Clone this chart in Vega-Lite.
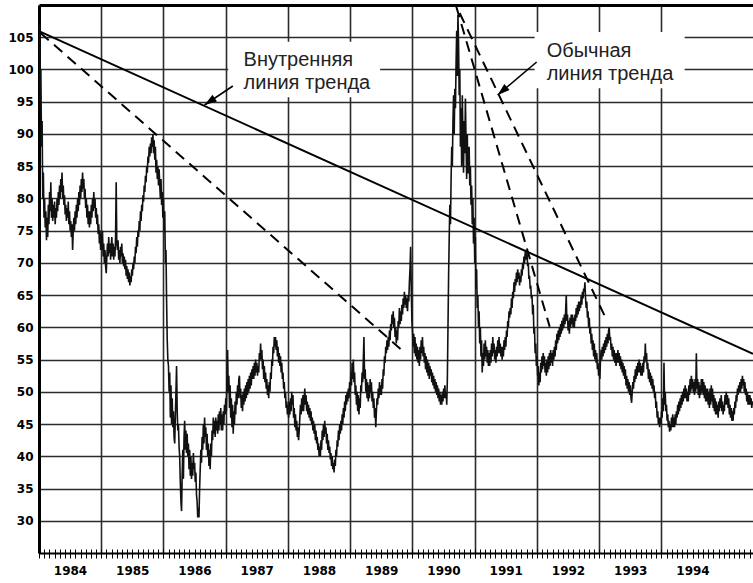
{
"$schema":"https://vega.github.io/schema/vega-lite/v6.json",
"width":714,"height":548,
"autosize":{"type":"none"},
"padding":{"left":39,"top":5,"right":0,"bottom":30},
"background":"white",
"config":{
"view":{"stroke":null},
"axis":{"labelFont":"DejaVu Sans","labelFontWeight":"bold","labelFontSize":12,"labelColor":"#000","gridColor":"#2b2b2b","gridWidth":1.6,"gridOpacity":1}
},
"resolve":{"axis":{"x":"independent","y":"independent"}},
"datasets":{
"boxes":[{"x1":1987.04,"x2":1989.48,"y1":104.3,"y2":95.7},{"x1":1991.962,"x2":1994.372,"y1":105.8,"y2":97.1}],
"solid":[{"x1":1984.008,"y1":105.9,"x2":1995.47,"y2":55.9}],
"dashed":[{"x1":1984.024,"y1":105.66,"x2":1989.809,"y2":56.64},{"x1":1990.704,"y1":109.74,"x2":1992.204,"y2":60.1},{"x1":1990.757,"y1":108.76,"x2":1993.119,"y2":61.14}],
"arrows":[{"name":"inner","x1":1987.114,"y1":97.44,"x2":1986.659,"y2":94.49},{"name":"usual","x1":1991.995,"y1":101.16,"x2":1991.368,"y2":96.04}],
"labels":[{"x":1987.286,"y":100.58,"label":"Внутренняя\nлиния тренда"},{"x":1992.155,"y":101.89,"label":"Обычная\nлиния тренда"}],
"price":[
{"t":1984.00,"v":104},{"t":1984.01,"v":107},{"t":1984.02,"v":95},{"t":1984.03,"v":100},{"t":1984.04,"v":88},{"t":1984.05,"v":92},{"t":1984.06,"v":80},{"t":1984.07,"v":84},{"t":1984.08,"v":77},{"t":1984.09,"v":80},
{"t":1984.10,"v":75.5},{"t":1984.11,"v":78},{"t":1984.12,"v":73.5},{"t":1984.13,"v":77},{"t":1984.14,"v":74},{"t":1984.15,"v":79},{"t":1984.16,"v":76},{"t":1984.17,"v":81},{"t":1984.18,"v":78},{"t":1984.19,"v":82.5},
{"t":1984.20,"v":77},{"t":1984.21,"v":80},{"t":1984.22,"v":76.5},{"t":1984.23,"v":79},{"t":1984.24,"v":77},{"t":1984.25,"v":79.5},{"t":1984.26,"v":76},{"t":1984.27,"v":78.5},{"t":1984.28,"v":77},{"t":1984.29,"v":80},
{"t":1984.30,"v":78},{"t":1984.31,"v":81},{"t":1984.32,"v":79},{"t":1984.33,"v":82},{"t":1984.34,"v":80},{"t":1984.35,"v":83},{"t":1984.36,"v":81},{"t":1984.37,"v":84},{"t":1984.38,"v":80},{"t":1984.39,"v":82},
{"t":1984.40,"v":79},{"t":1984.41,"v":80.5},{"t":1984.42,"v":77.5},{"t":1984.43,"v":79},{"t":1984.44,"v":76.5},{"t":1984.45,"v":78.5},{"t":1984.46,"v":77},{"t":1984.47,"v":79.5},{"t":1984.48,"v":76},{"t":1984.49,"v":78},
{"t":1984.50,"v":75},{"t":1984.51,"v":76.5},{"t":1984.52,"v":74},{"t":1984.53,"v":76},{"t":1984.54,"v":72},{"t":1984.55,"v":75},{"t":1984.56,"v":77},{"t":1984.57,"v":75},{"t":1984.58,"v":78},{"t":1984.59,"v":76},
{"t":1984.60,"v":79},{"t":1984.61,"v":77},{"t":1984.62,"v":80},{"t":1984.63,"v":78},{"t":1984.64,"v":81},{"t":1984.65,"v":79},{"t":1984.66,"v":82},{"t":1984.67,"v":80},{"t":1984.68,"v":83},{"t":1984.69,"v":81},
{"t":1984.70,"v":84},{"t":1984.71,"v":81.5},{"t":1984.72,"v":83},{"t":1984.73,"v":80},{"t":1984.74,"v":81.5},{"t":1984.75,"v":78.5},{"t":1984.76,"v":80},{"t":1984.77,"v":77},{"t":1984.78,"v":79},{"t":1984.79,"v":76},
{"t":1984.80,"v":78},{"t":1984.81,"v":75.5},{"t":1984.82,"v":78},{"t":1984.83,"v":76},{"t":1984.84,"v":79},{"t":1984.85,"v":77},{"t":1984.86,"v":80},{"t":1984.87,"v":78},{"t":1984.88,"v":81},{"t":1984.89,"v":78.5},
{"t":1984.90,"v":80},{"t":1984.91,"v":77},{"t":1984.92,"v":78.5},{"t":1984.93,"v":76},{"t":1984.94,"v":77.5},{"t":1984.95,"v":74.5},{"t":1984.96,"v":76},{"t":1984.97,"v":73},{"t":1984.98,"v":75},{"t":1984.99,"v":72},
{"t":1985.00,"v":74.5},{"t":1985.01,"v":72},{"t":1985.02,"v":75},{"t":1985.03,"v":71},{"t":1985.04,"v":73},{"t":1985.05,"v":70},{"t":1985.06,"v":72},{"t":1985.07,"v":69.5},{"t":1985.08,"v":68.4},{"t":1985.09,"v":71},
{"t":1985.10,"v":73},{"t":1985.11,"v":71},{"t":1985.12,"v":74},{"t":1985.13,"v":71.5},{"t":1985.14,"v":73},{"t":1985.15,"v":70.5},{"t":1985.16,"v":72.5},{"t":1985.17,"v":74},{"t":1985.18,"v":71},{"t":1985.19,"v":73},
{"t":1985.20,"v":70.5},{"t":1985.21,"v":72.5},{"t":1985.22,"v":71},{"t":1985.23,"v":74},{"t":1985.24,"v":82.5},{"t":1985.25,"v":73},{"t":1985.26,"v":72},{"t":1985.27,"v":73.5},{"t":1985.28,"v":70.5},{"t":1985.29,"v":72},
{"t":1985.30,"v":70},{"t":1985.31,"v":72.5},{"t":1985.32,"v":71},{"t":1985.33,"v":73},{"t":1985.34,"v":70},{"t":1985.35,"v":71.5},{"t":1985.36,"v":69.5},{"t":1985.37,"v":71},{"t":1985.38,"v":69},{"t":1985.39,"v":70.5},
{"t":1985.40,"v":68},{"t":1985.41,"v":69.5},{"t":1985.42,"v":67.5},{"t":1985.43,"v":69},{"t":1985.44,"v":67},{"t":1985.45,"v":68.5},{"t":1985.46,"v":66.5},{"t":1985.47,"v":68},{"t":1985.48,"v":67},{"t":1985.49,"v":69},
{"t":1985.50,"v":68},{"t":1985.51,"v":70},{"t":1985.52,"v":69},{"t":1985.53,"v":71},{"t":1985.54,"v":70},{"t":1985.55,"v":72.5},{"t":1985.56,"v":71.5},{"t":1985.57,"v":74},{"t":1985.58,"v":72.5},{"t":1985.59,"v":75},
{"t":1985.60,"v":74},{"t":1985.61,"v":76.5},{"t":1985.62,"v":75},{"t":1985.63,"v":78},{"t":1985.64,"v":76.5},{"t":1985.65,"v":79},{"t":1985.66,"v":78},{"t":1985.67,"v":80.5},{"t":1985.68,"v":79.5},{"t":1985.69,"v":82},
{"t":1985.70,"v":81},{"t":1985.71,"v":83.5},{"t":1985.72,"v":82.5},{"t":1985.73,"v":85},{"t":1985.74,"v":84},{"t":1985.75,"v":86.5},{"t":1985.76,"v":85.5},{"t":1985.77,"v":88},{"t":1985.78,"v":86.5},{"t":1985.79,"v":88.5},
{"t":1985.80,"v":87},{"t":1985.81,"v":89.5},{"t":1985.82,"v":88},{"t":1985.83,"v":90},{"t":1985.84,"v":87},{"t":1985.85,"v":89},{"t":1985.86,"v":86},{"t":1985.87,"v":88},{"t":1985.88,"v":84},{"t":1985.89,"v":86},
{"t":1985.90,"v":83},{"t":1985.91,"v":85},{"t":1985.92,"v":82},{"t":1985.93,"v":84.5},{"t":1985.94,"v":82},{"t":1985.95,"v":80},{"t":1985.96,"v":83},{"t":1985.97,"v":79},{"t":1985.98,"v":81},{"t":1985.99,"v":77},
{"t":1986.00,"v":80},{"t":1986.01,"v":75},{"t":1986.02,"v":78},{"t":1986.03,"v":70},{"t":1986.04,"v":72},{"t":1986.05,"v":64},{"t":1986.06,"v":58},{"t":1986.07,"v":55},{"t":1986.08,"v":54},{"t":1986.09,"v":50},
{"t":1986.10,"v":53},{"t":1986.11,"v":46},{"t":1986.12,"v":51},{"t":1986.13,"v":45},{"t":1986.14,"v":49},{"t":1986.15,"v":44.5},{"t":1986.16,"v":47},{"t":1986.17,"v":43},{"t":1986.18,"v":42},{"t":1986.19,"v":46},
{"t":1986.20,"v":50},{"t":1986.21,"v":54},{"t":1986.22,"v":47},{"t":1986.23,"v":44},{"t":1986.24,"v":45},{"t":1986.25,"v":41.5},{"t":1986.26,"v":40},{"t":1986.27,"v":36},{"t":1986.28,"v":33},{"t":1986.29,"v":31.5},
{"t":1986.30,"v":37},{"t":1986.31,"v":41},{"t":1986.32,"v":36.5},{"t":1986.33,"v":43},{"t":1986.34,"v":45.5},{"t":1986.35,"v":41},{"t":1986.36,"v":44},{"t":1986.37,"v":40.5},{"t":1986.38,"v":43.5},{"t":1986.39,"v":40},
{"t":1986.40,"v":42},{"t":1986.41,"v":38},{"t":1986.42,"v":41},{"t":1986.43,"v":37},{"t":1986.44,"v":40},{"t":1986.45,"v":36.5},{"t":1986.46,"v":39},{"t":1986.47,"v":37},{"t":1986.48,"v":40.5},{"t":1986.49,"v":38},
{"t":1986.50,"v":39},{"t":1986.51,"v":36},{"t":1986.52,"v":37.5},{"t":1986.53,"v":34},{"t":1986.54,"v":33},{"t":1986.55,"v":30.5},{"t":1986.56,"v":32},{"t":1986.57,"v":30.5},{"t":1986.58,"v":35},{"t":1986.59,"v":38},
{"t":1986.60,"v":41},{"t":1986.61,"v":39},{"t":1986.62,"v":43},{"t":1986.63,"v":41},{"t":1986.64,"v":45},{"t":1986.65,"v":42},{"t":1986.66,"v":46},{"t":1986.67,"v":43},{"t":1986.68,"v":44.5},{"t":1986.69,"v":41},
{"t":1986.70,"v":43.5},{"t":1986.71,"v":40},{"t":1986.72,"v":42},{"t":1986.73,"v":38.5},{"t":1986.74,"v":41},{"t":1986.75,"v":38},{"t":1986.76,"v":42},{"t":1986.77,"v":40},{"t":1986.78,"v":44},{"t":1986.79,"v":42.5},
{"t":1986.80,"v":46},{"t":1986.81,"v":43.5},{"t":1986.82,"v":45.5},{"t":1986.83,"v":43},{"t":1986.84,"v":46},{"t":1986.85,"v":44},{"t":1986.86,"v":45.5},{"t":1986.87,"v":43.5},{"t":1986.88,"v":46.5},{"t":1986.89,"v":44},
{"t":1986.90,"v":47},{"t":1986.91,"v":45},{"t":1986.92,"v":47.5},{"t":1986.93,"v":44},{"t":1986.94,"v":46.5},{"t":1986.95,"v":44},{"t":1986.96,"v":47},{"t":1986.97,"v":45},{"t":1986.98,"v":48},{"t":1986.99,"v":46.5},
{"t":1987.00,"v":49},{"t":1987.01,"v":47},{"t":1987.02,"v":52},{"t":1987.03,"v":56.5},{"t":1987.04,"v":50},{"t":1987.05,"v":52.5},{"t":1987.06,"v":47.5},{"t":1987.07,"v":51},{"t":1987.08,"v":46},{"t":1987.09,"v":49},
{"t":1987.10,"v":44.5},{"t":1987.11,"v":48},{"t":1987.12,"v":43.5},{"t":1987.13,"v":47},{"t":1987.14,"v":45},{"t":1987.15,"v":48.5},{"t":1987.16,"v":46.5},{"t":1987.17,"v":50},{"t":1987.18,"v":48},{"t":1987.19,"v":51},
{"t":1987.20,"v":49},{"t":1987.21,"v":52},{"t":1987.22,"v":52.5},{"t":1987.23,"v":49},{"t":1987.24,"v":50.5},{"t":1987.25,"v":47.5},{"t":1987.26,"v":49.5},{"t":1987.27,"v":47},{"t":1987.28,"v":50},{"t":1987.29,"v":48},
{"t":1987.30,"v":50.5},{"t":1987.31,"v":48.5},{"t":1987.32,"v":51},{"t":1987.33,"v":49},{"t":1987.34,"v":51.5},{"t":1987.35,"v":49.5},{"t":1987.36,"v":52},{"t":1987.37,"v":50},{"t":1987.38,"v":52.5},{"t":1987.39,"v":50.5},
{"t":1987.40,"v":53},{"t":1987.41,"v":51},{"t":1987.42,"v":53.5},{"t":1987.43,"v":52},{"t":1987.44,"v":54},{"t":1987.45,"v":52},{"t":1987.46,"v":54.5},{"t":1987.47,"v":52.5},{"t":1987.48,"v":55},{"t":1987.49,"v":53},
{"t":1987.50,"v":54.5},{"t":1987.51,"v":52.5},{"t":1987.52,"v":54},{"t":1987.53,"v":53},{"t":1987.54,"v":56},{"t":1987.55,"v":55},{"t":1987.56,"v":57.5},{"t":1987.57,"v":55},{"t":1987.58,"v":56.5},{"t":1987.59,"v":53.5},
{"t":1987.60,"v":55},{"t":1987.61,"v":52},{"t":1987.62,"v":54},{"t":1987.63,"v":51.5},{"t":1987.64,"v":53},{"t":1987.65,"v":50.5},{"t":1987.66,"v":52},{"t":1987.67,"v":49.5},{"t":1987.68,"v":51},{"t":1987.69,"v":49},
{"t":1987.70,"v":51.5},{"t":1987.71,"v":50},{"t":1987.72,"v":53},{"t":1987.73,"v":52},{"t":1987.74,"v":55},{"t":1987.75,"v":54},{"t":1987.76,"v":57},{"t":1987.77,"v":56},{"t":1987.78,"v":58.5},{"t":1987.79,"v":57},
{"t":1987.80,"v":58.5},{"t":1987.81,"v":56.5},{"t":1987.82,"v":58},{"t":1987.83,"v":55.5},{"t":1987.84,"v":57},{"t":1987.85,"v":54.5},{"t":1987.86,"v":56},{"t":1987.87,"v":54},{"t":1987.88,"v":55.5},{"t":1987.89,"v":53},
{"t":1987.90,"v":54.5},{"t":1987.91,"v":52},{"t":1987.92,"v":53},{"t":1987.93,"v":50.5},{"t":1987.94,"v":51.5},{"t":1987.95,"v":49},{"t":1987.96,"v":50},{"t":1987.97,"v":47.5},{"t":1987.98,"v":48.5},{"t":1987.99,"v":46.5},
{"t":1988.00,"v":48},{"t":1988.01,"v":46},{"t":1988.02,"v":48.5},{"t":1988.03,"v":46.5},{"t":1988.04,"v":49},{"t":1988.05,"v":47},{"t":1988.06,"v":50},{"t":1988.07,"v":48},{"t":1988.08,"v":49.5},{"t":1988.09,"v":46},
{"t":1988.10,"v":47.5},{"t":1988.11,"v":44.5},{"t":1988.12,"v":46.5},{"t":1988.13,"v":44},{"t":1988.14,"v":45.5},{"t":1988.15,"v":43},{"t":1988.16,"v":44.5},{"t":1988.17,"v":42.5},{"t":1988.18,"v":44},{"t":1988.19,"v":46},
{"t":1988.20,"v":48},{"t":1988.21,"v":46.5},{"t":1988.22,"v":49},{"t":1988.23,"v":47},{"t":1988.24,"v":49.5},{"t":1988.25,"v":47},{"t":1988.26,"v":49},{"t":1988.27,"v":50.5},{"t":1988.28,"v":48},{"t":1988.29,"v":49.5},
{"t":1988.30,"v":47},{"t":1988.31,"v":48.5},{"t":1988.32,"v":46.5},{"t":1988.33,"v":48},{"t":1988.34,"v":46},{"t":1988.35,"v":47.5},{"t":1988.36,"v":45.5},{"t":1988.37,"v":47},{"t":1988.38,"v":45},{"t":1988.39,"v":46},
{"t":1988.40,"v":44},{"t":1988.41,"v":45.5},{"t":1988.42,"v":43.5},{"t":1988.43,"v":45},{"t":1988.44,"v":42.5},{"t":1988.45,"v":44},{"t":1988.46,"v":42},{"t":1988.47,"v":43},{"t":1988.48,"v":41},{"t":1988.49,"v":42},
{"t":1988.50,"v":40},{"t":1988.51,"v":41.5},{"t":1988.52,"v":40},{"t":1988.53,"v":42.5},{"t":1988.54,"v":41},{"t":1988.55,"v":44},{"t":1988.56,"v":42.5},{"t":1988.57,"v":45},{"t":1988.58,"v":43},{"t":1988.59,"v":45.5},
{"t":1988.60,"v":43.5},{"t":1988.61,"v":44.5},{"t":1988.62,"v":42},{"t":1988.63,"v":43.5},{"t":1988.64,"v":41},{"t":1988.65,"v":42.5},{"t":1988.66,"v":40.5},{"t":1988.67,"v":41.5},{"t":1988.68,"v":39.5},{"t":1988.69,"v":40.5},
{"t":1988.70,"v":38.5},{"t":1988.71,"v":40},{"t":1988.72,"v":38},{"t":1988.73,"v":39},{"t":1988.74,"v":37.5},{"t":1988.75,"v":39.5},{"t":1988.76,"v":38.5},{"t":1988.77,"v":41},{"t":1988.78,"v":40},{"t":1988.79,"v":42.5},
{"t":1988.80,"v":41.5},{"t":1988.81,"v":44},{"t":1988.82,"v":42.5},{"t":1988.83,"v":45},{"t":1988.84,"v":43.5},{"t":1988.85,"v":45.5},{"t":1988.86,"v":44},{"t":1988.87,"v":46.5},{"t":1988.88,"v":45},{"t":1988.89,"v":47.5},
{"t":1988.90,"v":46},{"t":1988.91,"v":48.5},{"t":1988.92,"v":47},{"t":1988.93,"v":49.5},{"t":1988.94,"v":48},{"t":1988.95,"v":50},{"t":1988.96,"v":48.5},{"t":1988.97,"v":50.5},{"t":1988.98,"v":49},{"t":1988.99,"v":51.5},
{"t":1989.00,"v":50},{"t":1989.01,"v":53},{"t":1989.02,"v":51},{"t":1989.03,"v":54.5},{"t":1989.04,"v":52},{"t":1989.05,"v":55},{"t":1989.06,"v":51.5},{"t":1989.07,"v":53},{"t":1989.08,"v":49.5},{"t":1989.09,"v":51},
{"t":1989.10,"v":48},{"t":1989.11,"v":50},{"t":1989.12,"v":47},{"t":1989.13,"v":49.5},{"t":1989.14,"v":46.5},{"t":1989.15,"v":49},{"t":1989.16,"v":47.5},{"t":1989.17,"v":51},{"t":1989.18,"v":50},{"t":1989.19,"v":53},
{"t":1989.20,"v":51.5},{"t":1989.21,"v":55},{"t":1989.22,"v":58.5},{"t":1989.23,"v":52},{"t":1989.24,"v":53.5},{"t":1989.25,"v":50},{"t":1989.26,"v":52},{"t":1989.27,"v":49},{"t":1989.28,"v":51.5},{"t":1989.29,"v":48.5},
{"t":1989.30,"v":51},{"t":1989.31,"v":49},{"t":1989.32,"v":52},{"t":1989.33,"v":50},{"t":1989.34,"v":51.5},{"t":1989.35,"v":48.5},{"t":1989.36,"v":50},{"t":1989.37,"v":47.5},{"t":1989.38,"v":49},{"t":1989.39,"v":46},
{"t":1989.40,"v":47.5},{"t":1989.41,"v":44.5},{"t":1989.42,"v":47},{"t":1989.43,"v":49},{"t":1989.44,"v":48},{"t":1989.45,"v":50.5},{"t":1989.46,"v":49},{"t":1989.47,"v":51.5},{"t":1989.48,"v":49.5},{"t":1989.49,"v":51},
{"t":1989.50,"v":49.5},{"t":1989.51,"v":52},{"t":1989.52,"v":50.5},{"t":1989.53,"v":53.5},{"t":1989.54,"v":52.5},{"t":1989.55,"v":55.5},{"t":1989.56,"v":54.5},{"t":1989.57,"v":57},{"t":1989.58,"v":56},{"t":1989.59,"v":58},
{"t":1989.60,"v":56.5},{"t":1989.61,"v":58.5},{"t":1989.62,"v":57},{"t":1989.63,"v":59.5},{"t":1989.64,"v":58},{"t":1989.65,"v":60.5},{"t":1989.66,"v":59.5},{"t":1989.67,"v":62},{"t":1989.68,"v":60.5},{"t":1989.69,"v":62.5},
{"t":1989.70,"v":60},{"t":1989.71,"v":61.5},{"t":1989.72,"v":58.5},{"t":1989.73,"v":60},{"t":1989.74,"v":57.5},{"t":1989.75,"v":59.5},{"t":1989.76,"v":58},{"t":1989.77,"v":61},{"t":1989.78,"v":60},{"t":1989.79,"v":63},
{"t":1989.80,"v":60.5},{"t":1989.81,"v":62.5},{"t":1989.82,"v":61},{"t":1989.83,"v":63.5},{"t":1989.84,"v":62},{"t":1989.85,"v":64.5},{"t":1989.86,"v":63},{"t":1989.87,"v":65.5},{"t":1989.88,"v":63.5},{"t":1989.89,"v":65},
{"t":1989.90,"v":63},{"t":1989.91,"v":64.5},{"t":1989.92,"v":62.5},{"t":1989.93,"v":65},{"t":1989.94,"v":64},{"t":1989.95,"v":67},{"t":1989.96,"v":69},{"t":1989.97,"v":72.5},{"t":1989.98,"v":66},{"t":1989.99,"v":61},
{"t":1990.00,"v":59.5},{"t":1990.01,"v":57},{"t":1990.02,"v":59},{"t":1990.03,"v":56},{"t":1990.04,"v":58.5},{"t":1990.05,"v":55.5},{"t":1990.06,"v":57.5},{"t":1990.07,"v":55},{"t":1990.08,"v":57},{"t":1990.09,"v":54.5},
{"t":1990.10,"v":56.5},{"t":1990.11,"v":54},{"t":1990.12,"v":57},{"t":1990.13,"v":55},{"t":1990.14,"v":58},{"t":1990.15,"v":56},{"t":1990.16,"v":58.5},{"t":1990.17,"v":55.5},{"t":1990.18,"v":57},{"t":1990.19,"v":54.5},
{"t":1990.20,"v":56},{"t":1990.21,"v":53.5},{"t":1990.22,"v":55.5},{"t":1990.23,"v":53},{"t":1990.24,"v":55},{"t":1990.25,"v":52.5},{"t":1990.26,"v":54.5},{"t":1990.27,"v":52},{"t":1990.28,"v":54},{"t":1990.29,"v":52.5},
{"t":1990.30,"v":53.5},{"t":1990.31,"v":51.5},{"t":1990.32,"v":53},{"t":1990.33,"v":51},{"t":1990.34,"v":52.5},{"t":1990.35,"v":50.5},{"t":1990.36,"v":52},{"t":1990.37,"v":50},{"t":1990.38,"v":51.5},{"t":1990.39,"v":49.5},
{"t":1990.40,"v":51},{"t":1990.41,"v":49},{"t":1990.42,"v":50.5},{"t":1990.43,"v":48.5},{"t":1990.44,"v":50},{"t":1990.45,"v":48},{"t":1990.46,"v":49.5},{"t":1990.47,"v":48},{"t":1990.48,"v":50},{"t":1990.49,"v":48.5},
{"t":1990.50,"v":50.5},{"t":1990.51,"v":49},{"t":1990.52,"v":51},{"t":1990.53,"v":49},{"t":1990.54,"v":50},{"t":1990.55,"v":48},{"t":1990.56,"v":52},{"t":1990.57,"v":60},{"t":1990.58,"v":68},{"t":1990.59,"v":74},
{"t":1990.60,"v":79},{"t":1990.61,"v":76},{"t":1990.62,"v":83},{"t":1990.63,"v":88},{"t":1990.64,"v":85},{"t":1990.65,"v":92},{"t":1990.66,"v":96},{"t":1990.67,"v":90},{"t":1990.68,"v":97},{"t":1990.69,"v":94},
{"t":1990.70,"v":101},{"t":1990.71,"v":106},{"t":1990.72,"v":99},{"t":1990.73,"v":108.5},{"t":1990.74,"v":104},{"t":1990.75,"v":96},{"t":1990.76,"v":100},{"t":1990.77,"v":88},{"t":1990.78,"v":94},{"t":1990.79,"v":85},
{"t":1990.80,"v":96},{"t":1990.81,"v":90},{"t":1990.82,"v":84},{"t":1990.83,"v":92},{"t":1990.84,"v":87},{"t":1990.85,"v":95.5},{"t":1990.86,"v":89},{"t":1990.87,"v":83},{"t":1990.88,"v":90},{"t":1990.89,"v":84},
{"t":1990.90,"v":84},{"t":1990.91,"v":88},{"t":1990.92,"v":82},{"t":1990.93,"v":85},{"t":1990.94,"v":79},{"t":1990.95,"v":82},{"t":1990.96,"v":76},{"t":1990.97,"v":80},{"t":1990.98,"v":73},{"t":1990.99,"v":77},
{"t":1991.00,"v":70},{"t":1991.01,"v":74},{"t":1991.02,"v":66},{"t":1991.03,"v":69},{"t":1991.04,"v":63},{"t":1991.05,"v":65},{"t":1991.06,"v":60},{"t":1991.07,"v":62.5},{"t":1991.08,"v":57.5},{"t":1991.09,"v":60},
{"t":1991.10,"v":55.5},{"t":1991.11,"v":58},{"t":1991.12,"v":53},{"t":1991.13,"v":56},{"t":1991.14,"v":54},{"t":1991.15,"v":57.5},{"t":1991.16,"v":55},{"t":1991.17,"v":58},{"t":1991.18,"v":55.5},{"t":1991.19,"v":57},
{"t":1991.20,"v":54.5},{"t":1991.21,"v":56.5},{"t":1991.22,"v":54},{"t":1991.23,"v":56},{"t":1991.24,"v":54},{"t":1991.25,"v":56.5},{"t":1991.26,"v":54.5},{"t":1991.27,"v":57.5},{"t":1991.28,"v":55.5},{"t":1991.29,"v":58.5},
{"t":1991.30,"v":56},{"t":1991.31,"v":57.5},{"t":1991.32,"v":55},{"t":1991.33,"v":56.5},{"t":1991.34,"v":54.5},{"t":1991.35,"v":57},{"t":1991.36,"v":55.5},{"t":1991.37,"v":58},{"t":1991.38,"v":56},{"t":1991.39,"v":58.5},
{"t":1991.40,"v":56},{"t":1991.41,"v":57.5},{"t":1991.42,"v":55.5},{"t":1991.43,"v":57},{"t":1991.44,"v":55},{"t":1991.45,"v":57},{"t":1991.46,"v":55.5},{"t":1991.47,"v":58},{"t":1991.48,"v":56.5},{"t":1991.49,"v":58.5},
{"t":1991.50,"v":57},{"t":1991.51,"v":59.5},{"t":1991.52,"v":58.5},{"t":1991.53,"v":61},{"t":1991.54,"v":60},{"t":1991.55,"v":62.5},{"t":1991.56,"v":61.5},{"t":1991.57,"v":63},{"t":1991.58,"v":62},{"t":1991.59,"v":64.5},
{"t":1991.60,"v":63},{"t":1991.61,"v":65.5},{"t":1991.62,"v":64.5},{"t":1991.63,"v":67},{"t":1991.64,"v":65.5},{"t":1991.65,"v":67.5},{"t":1991.66,"v":66.5},{"t":1991.67,"v":68.5},{"t":1991.68,"v":67},{"t":1991.69,"v":69},
{"t":1991.70,"v":67.5},{"t":1991.71,"v":68.5},{"t":1991.72,"v":66.5},{"t":1991.73,"v":68},{"t":1991.74,"v":67},{"t":1991.75,"v":69},{"t":1991.76,"v":68},{"t":1991.77,"v":70},{"t":1991.78,"v":69},{"t":1991.79,"v":71},
{"t":1991.80,"v":70},{"t":1991.81,"v":71.5},{"t":1991.82,"v":72},{"t":1991.83,"v":70.5},{"t":1991.84,"v":71.5},{"t":1991.85,"v":69.5},{"t":1991.86,"v":70},{"t":1991.87,"v":67.5},{"t":1991.88,"v":68},{"t":1991.89,"v":66},
{"t":1991.90,"v":66.5},{"t":1991.91,"v":64.5},{"t":1991.92,"v":65},{"t":1991.93,"v":62},{"t":1991.94,"v":63.5},{"t":1991.95,"v":59},{"t":1991.96,"v":60},{"t":1991.97,"v":56},{"t":1991.98,"v":57.5},{"t":1991.99,"v":54},
{"t":1992.00,"v":55.5},{"t":1992.01,"v":52.5},{"t":1992.02,"v":54},{"t":1992.03,"v":51},{"t":1992.04,"v":53},{"t":1992.05,"v":51.5},{"t":1992.06,"v":54.5},{"t":1992.07,"v":53},{"t":1992.08,"v":55.5},{"t":1992.09,"v":53.5},
{"t":1992.10,"v":56},{"t":1992.11,"v":54},{"t":1992.12,"v":55.5},{"t":1992.13,"v":53},{"t":1992.14,"v":54.5},{"t":1992.15,"v":52.5},{"t":1992.16,"v":55},{"t":1992.17,"v":53},{"t":1992.18,"v":55.5},{"t":1992.19,"v":53.5},
{"t":1992.20,"v":56},{"t":1992.21,"v":54},{"t":1992.22,"v":56.5},{"t":1992.23,"v":54.5},{"t":1992.24,"v":56},{"t":1992.25,"v":54},{"t":1992.26,"v":56.5},{"t":1992.27,"v":55},{"t":1992.28,"v":57},{"t":1992.29,"v":55.5},
{"t":1992.30,"v":58},{"t":1992.31,"v":56.5},{"t":1992.32,"v":59},{"t":1992.33,"v":57.5},{"t":1992.34,"v":59.5},{"t":1992.35,"v":58},{"t":1992.36,"v":60},{"t":1992.37,"v":58.5},{"t":1992.38,"v":60.5},{"t":1992.39,"v":59},
{"t":1992.40,"v":61},{"t":1992.41,"v":59.5},{"t":1992.42,"v":61.5},{"t":1992.43,"v":60},{"t":1992.44,"v":62},{"t":1992.45,"v":60.5},{"t":1992.46,"v":62.5},{"t":1992.47,"v":65},{"t":1992.48,"v":61},{"t":1992.49,"v":62},
{"t":1992.50,"v":59.5},{"t":1992.51,"v":61},{"t":1992.52,"v":59},{"t":1992.53,"v":61.5},{"t":1992.54,"v":60},{"t":1992.55,"v":62},{"t":1992.56,"v":60.5},{"t":1992.57,"v":62},{"t":1992.58,"v":60},{"t":1992.59,"v":61.5},
{"t":1992.60,"v":60},{"t":1992.61,"v":62},{"t":1992.62,"v":61},{"t":1992.63,"v":63},{"t":1992.64,"v":61.5},{"t":1992.65,"v":63.5},{"t":1992.66,"v":62},{"t":1992.67,"v":64},{"t":1992.68,"v":62.5},{"t":1992.69,"v":64},
{"t":1992.70,"v":63},{"t":1992.71,"v":65},{"t":1992.72,"v":63.5},{"t":1992.73,"v":65.5},{"t":1992.74,"v":64.5},{"t":1992.75,"v":66},{"t":1992.76,"v":65.5},{"t":1992.77,"v":67},{"t":1992.78,"v":64.5},{"t":1992.79,"v":63},
{"t":1992.80,"v":64},{"t":1992.81,"v":61.5},{"t":1992.82,"v":62.5},{"t":1992.83,"v":60},{"t":1992.84,"v":61.5},{"t":1992.85,"v":59},{"t":1992.86,"v":60},{"t":1992.87,"v":57.5},{"t":1992.88,"v":59},{"t":1992.89,"v":56.5},
{"t":1992.90,"v":58},{"t":1992.91,"v":55.5},{"t":1992.92,"v":57.5},{"t":1992.93,"v":55},{"t":1992.94,"v":56.5},{"t":1992.95,"v":54.5},{"t":1992.96,"v":56},{"t":1992.97,"v":53.5},{"t":1992.98,"v":54.5},{"t":1992.99,"v":52.5},
{"t":1993.00,"v":53.5},{"t":1993.01,"v":52},{"t":1993.02,"v":55},{"t":1993.03,"v":56.5},{"t":1993.04,"v":55},{"t":1993.05,"v":57},{"t":1993.06,"v":55.5},{"t":1993.07,"v":57.5},{"t":1993.08,"v":56},{"t":1993.09,"v":58},
{"t":1993.10,"v":56.5},{"t":1993.11,"v":58.5},{"t":1993.12,"v":57},{"t":1993.13,"v":59},{"t":1993.14,"v":57.5},{"t":1993.15,"v":59.5},{"t":1993.16,"v":60},{"t":1993.17,"v":58},{"t":1993.18,"v":58.5},{"t":1993.19,"v":56.5},
{"t":1993.20,"v":57.5},{"t":1993.21,"v":55.5},{"t":1993.22,"v":57},{"t":1993.23,"v":55},{"t":1993.24,"v":56.5},{"t":1993.25,"v":54.5},{"t":1993.26,"v":56},{"t":1993.27,"v":54},{"t":1993.28,"v":56},{"t":1993.29,"v":54.5},
{"t":1993.30,"v":56.5},{"t":1993.31,"v":54.5},{"t":1993.32,"v":56},{"t":1993.33,"v":54},{"t":1993.34,"v":55.5},{"t":1993.35,"v":53.5},{"t":1993.36,"v":55},{"t":1993.37,"v":53},{"t":1993.38,"v":54.5},{"t":1993.39,"v":52.5},
{"t":1993.40,"v":54},{"t":1993.41,"v":52},{"t":1993.42,"v":53.5},{"t":1993.43,"v":51},{"t":1993.44,"v":52.5},{"t":1993.45,"v":50.5},{"t":1993.46,"v":52},{"t":1993.47,"v":50},{"t":1993.48,"v":51.5},{"t":1993.49,"v":49.5},
{"t":1993.50,"v":51},{"t":1993.51,"v":49},{"t":1993.52,"v":48.3},{"t":1993.53,"v":50},{"t":1993.54,"v":51.5},{"t":1993.55,"v":50.5},{"t":1993.56,"v":52.5},{"t":1993.57,"v":51.5},{"t":1993.58,"v":53.5},{"t":1993.59,"v":52},
{"t":1993.60,"v":54},{"t":1993.61,"v":52.5},{"t":1993.62,"v":54.5},{"t":1993.63,"v":53},{"t":1993.64,"v":55},{"t":1993.65,"v":53},{"t":1993.66,"v":54.5},{"t":1993.67,"v":52.5},{"t":1993.68,"v":54},{"t":1993.69,"v":52.5},
{"t":1993.70,"v":54.5},{"t":1993.71,"v":53},{"t":1993.72,"v":55.5},{"t":1993.73,"v":54.5},{"t":1993.74,"v":57.5},{"t":1993.75,"v":55},{"t":1993.76,"v":56},{"t":1993.77,"v":53.5},{"t":1993.78,"v":54.5},{"t":1993.79,"v":52},
{"t":1993.80,"v":53.5},{"t":1993.81,"v":51.5},{"t":1993.82,"v":53},{"t":1993.83,"v":51},{"t":1993.84,"v":52.5},{"t":1993.85,"v":50.5},{"t":1993.86,"v":52},{"t":1993.87,"v":50},{"t":1993.88,"v":51},{"t":1993.89,"v":49},
{"t":1993.90,"v":50},{"t":1993.91,"v":47.5},{"t":1993.92,"v":48.5},{"t":1993.93,"v":46},{"t":1993.94,"v":47},{"t":1993.95,"v":45},{"t":1993.96,"v":46},{"t":1993.97,"v":44.5},{"t":1993.98,"v":46},{"t":1993.99,"v":45},
{"t":1994.00,"v":47},{"t":1994.01,"v":46},{"t":1994.02,"v":49},{"t":1994.03,"v":47},{"t":1994.04,"v":54.5},{"t":1994.05,"v":48},{"t":1994.06,"v":50},{"t":1994.07,"v":47},{"t":1994.08,"v":48},{"t":1994.09,"v":45.5},
{"t":1994.10,"v":46.5},{"t":1994.11,"v":44.5},{"t":1994.12,"v":45.5},{"t":1994.13,"v":43.8},{"t":1994.14,"v":45},{"t":1994.15,"v":44},{"t":1994.16,"v":46},{"t":1994.17,"v":44.5},{"t":1994.18,"v":46.5},{"t":1994.19,"v":44.5},
{"t":1994.20,"v":46},{"t":1994.21,"v":44.5},{"t":1994.22,"v":46.5},{"t":1994.23,"v":45},{"t":1994.24,"v":47},{"t":1994.25,"v":46},{"t":1994.26,"v":48},{"t":1994.27,"v":46.5},{"t":1994.28,"v":48.5},{"t":1994.29,"v":47},
{"t":1994.30,"v":49},{"t":1994.31,"v":47.5},{"t":1994.32,"v":49.5},{"t":1994.33,"v":48},{"t":1994.34,"v":50},{"t":1994.35,"v":48.5},{"t":1994.36,"v":50.5},{"t":1994.37,"v":49},{"t":1994.38,"v":51},{"t":1994.39,"v":49},
{"t":1994.40,"v":50.5},{"t":1994.41,"v":48.5},{"t":1994.42,"v":50},{"t":1994.43,"v":48.5},{"t":1994.44,"v":51},{"t":1994.45,"v":49.5},{"t":1994.46,"v":52},{"t":1994.47,"v":50},{"t":1994.48,"v":52.5},{"t":1994.49,"v":50.5},
{"t":1994.50,"v":52},{"t":1994.51,"v":50},{"t":1994.52,"v":51.5},{"t":1994.53,"v":49.5},{"t":1994.54,"v":52},{"t":1994.55,"v":50},{"t":1994.56,"v":56},{"t":1994.57,"v":50.5},{"t":1994.58,"v":52},{"t":1994.59,"v":49.5},
{"t":1994.60,"v":51.5},{"t":1994.61,"v":49},{"t":1994.62,"v":51},{"t":1994.63,"v":49.5},{"t":1994.64,"v":52},{"t":1994.65,"v":50},{"t":1994.66,"v":52},{"t":1994.67,"v":49.5},{"t":1994.68,"v":51.5},{"t":1994.69,"v":49},
{"t":1994.70,"v":51},{"t":1994.71,"v":48.5},{"t":1994.72,"v":50.5},{"t":1994.73,"v":48.5},{"t":1994.74,"v":50.5},{"t":1994.75,"v":48},{"t":1994.76,"v":50},{"t":1994.77,"v":47.5},{"t":1994.78,"v":50.5},{"t":1994.79,"v":48},
{"t":1994.80,"v":51},{"t":1994.81,"v":48.5},{"t":1994.82,"v":50.5},{"t":1994.83,"v":47.5},{"t":1994.84,"v":49.5},{"t":1994.85,"v":47},{"t":1994.86,"v":49},{"t":1994.87,"v":46.5},{"t":1994.88,"v":48.5},{"t":1994.89,"v":46.5},
{"t":1994.90,"v":48},{"t":1994.91,"v":46},{"t":1994.92,"v":48.5},{"t":1994.93,"v":47},{"t":1994.94,"v":49},{"t":1994.95,"v":47.5},{"t":1994.96,"v":49.5},{"t":1994.97,"v":47},{"t":1994.98,"v":48.5},{"t":1994.99,"v":46.5},
{"t":1995.00,"v":48},{"t":1995.01,"v":47},{"t":1995.02,"v":49.5},{"t":1995.03,"v":48},{"t":1995.04,"v":50},{"t":1995.05,"v":48},{"t":1995.06,"v":49.5},{"t":1995.07,"v":47.5},{"t":1995.08,"v":49},{"t":1995.09,"v":46.5},
{"t":1995.10,"v":48},{"t":1995.11,"v":46},{"t":1995.12,"v":47.5},{"t":1995.13,"v":45.5},{"t":1995.14,"v":47},{"t":1995.15,"v":45.5},{"t":1995.16,"v":47.5},{"t":1995.17,"v":46.5},{"t":1995.18,"v":48.5},{"t":1995.19,"v":47.5},
{"t":1995.20,"v":49.5},{"t":1995.21,"v":48.5},{"t":1995.22,"v":50.5},{"t":1995.23,"v":49.5},{"t":1995.24,"v":51},{"t":1995.25,"v":50},{"t":1995.26,"v":51.5},{"t":1995.27,"v":50},{"t":1995.28,"v":52},{"t":1995.29,"v":50.5},
{"t":1995.30,"v":52.5},{"t":1995.31,"v":51},{"t":1995.32,"v":52},{"t":1995.33,"v":50},{"t":1995.34,"v":51.5},{"t":1995.35,"v":49.5},{"t":1995.36,"v":50.5},{"t":1995.37,"v":48.5},{"t":1995.38,"v":50},{"t":1995.39,"v":48},
{"t":1995.40,"v":49.5},{"t":1995.41,"v":48},{"t":1995.42,"v":49.5},{"t":1995.43,"v":48},{"t":1995.44,"v":49},{"t":1995.45,"v":47.5},{"t":1995.46,"v":48.5},{"t":1995.47,"v":48}
]
},
"layer":[
{
"data":{"name":"boxes"},
"mark":{"type":"rect","color":"white","opacity":1},
"encoding":{
"x":{"field":"x1","type":"quantitative","scale":{"domain":[1984,1995.47],"nice":false,"zero":false},
"axis":{"orient":"bottom","values":[1984,1984.083,1984.167,1984.25,1984.333,1984.417,1984.5,1984.583,1984.667,1984.75,1984.833,1984.917,1985,1985.083,1985.167,1985.25,1985.333,1985.417,1985.5,1985.583,1985.667,1985.75,1985.833,1985.917,1986,1986.083,1986.167,1986.25,1986.333,1986.417,1986.5,1986.583,1986.667,1986.75,1986.833,1986.917,1987,1987.083,1987.167,1987.25,1987.333,1987.417,1987.5,1987.583,1987.667,1987.75,1987.833,1987.917,1988,1988.083,1988.167,1988.25,1988.333,1988.417,1988.5,1988.583,1988.667,1988.75,1988.833,1988.917,1989,1989.083,1989.167,1989.25,1989.333,1989.417,1989.5,1989.583,1989.667,1989.75,1989.833,1989.917,1990,1990.083,1990.167,1990.25,1990.333,1990.417,1990.5,1990.583,1990.667,1990.75,1990.833,1990.917,1991,1991.083,1991.167,1991.25,1991.333,1991.417,1991.5,1991.583,1991.667,1991.75,1991.833,1991.917,1992,1992.083,1992.167,1992.25,1992.333,1992.417,1992.5,1992.583,1992.667,1992.75,1992.833,1992.917,1993,1993.083,1993.167,1993.25,1993.333,1993.417,1993.5,1993.583,1993.667,1993.75,1993.833,1993.917,1994,1994.083,1994.167,1994.25,1994.333,1994.417,1994.5,1994.583,1994.667,1994.75,1994.833,1994.917,1995,1995.083,1995.167,1995.25,1995.333,1995.417],
"labels":false,"grid":false,"domain":false,"ticks":true,"tickSize":9,"offset":-4,"tickColor":"#000","tickWidth":1,"title":null}},
"x2":{"field":"x2"},
"y":{"field":"y1","type":"quantitative","scale":{"domain":[25,110],"nice":false,"zero":false},"axis":null},
"y2":{"field":"y2"}
}
},
{
"data":{"name":"price"},
"mark":{"type":"line","color":"#111","strokeWidth":1.6,"clip":true},
"encoding":{
"x":{"field":"t","type":"quantitative","scale":{"domain":[1984,1995.47],"nice":false,"zero":false},
"axis":{"orient":"bottom","values":[1984,1985,1986,1987,1988,1989,1990,1991,1992,1993,1994],"grid":true,"ticks":false,"tickSize":0,"labelOffset":31,"labelPadding":12,"format":"d","labelFlush":false,"labelOverlap":false,"labelBound":false,"domain":true,"domainColor":"#000","domainWidth":2,"title":null}},
"y":{"field":"v","type":"quantitative","scale":{"domain":[25,110],"nice":false,"zero":false},
"axis":{"orient":"left","values":[30,35,40,45,50,55,60,65,70,75,80,85,90,95,100,105],"grid":true,"ticks":false,"tickSize":0,"labelPadding":6,"domain":true,"domainColor":"#000","domainWidth":3,"title":null,"labelOverlap":false,"labelFlush":false,"labelBound":false}}
}
},
{
"data":{"name":"solid"},
"mark":{"type":"rule","color":"#000","strokeWidth":2,"clip":true},
"encoding":{
"x":{"field":"x1","type":"quantitative","scale":{"domain":[1984,1995.47],"nice":false,"zero":false},
"axis":{"orient":"top","labels":false,"ticks":false,"grid":false,"domain":true,"domainColor":"#000","domainWidth":3,"title":null}},
"x2":{"field":"x2"},
"y":{"field":"y1","type":"quantitative","scale":{"domain":[25,110],"nice":false,"zero":false},"axis":null},
"y2":{"field":"y2"}
}
},
{
"data":{"name":"dashed"},
"mark":{"type":"rule","color":"#000","strokeWidth":2,"strokeDash":[11,7],"clip":true},
"encoding":{
"x":{"field":"x1","type":"quantitative","scale":{"domain":[1984,1995.47],"nice":false,"zero":false},"axis":null},
"x2":{"field":"x2"},
"y":{"field":"y1","type":"quantitative","scale":{"domain":[25,110],"nice":false,"zero":false},"axis":null},
"y2":{"field":"y2"}
}
},
{
"data":{"name":"arrows"},
"mark":{"type":"rule","color":"#000","strokeWidth":1.6},
"encoding":{
"x":{"field":"x1","type":"quantitative","scale":{"domain":[1984,1995.47],"nice":false,"zero":false},"axis":null},
"x2":{"field":"x2"},
"y":{"field":"y1","type":"quantitative","scale":{"domain":[25,110],"nice":false,"zero":false},"axis":null},
"y2":{"field":"y2"}
}
},
{
"data":{"name":"arrows"},
"transform":[{"filter":"datum.name == 'inner'"}],
"mark":{"type":"point","shape":"M0,0L0.42,1.3L-0.42,1.3Z","filled":true,"color":"#000","opacity":1,"size":360,"angle":236},
"encoding":{
"x":{"field":"x2","type":"quantitative","scale":{"domain":[1984,1995.47],"nice":false,"zero":false},"axis":null},
"y":{"field":"y2","type":"quantitative","scale":{"domain":[25,110],"nice":false,"zero":false},"axis":null}
}
},
{
"data":{"name":"arrows"},
"transform":[{"filter":"datum.name == 'usual'"}],
"mark":{"type":"point","shape":"M0,0L0.42,1.3L-0.42,1.3Z","filled":true,"color":"#000","opacity":1,"size":360,"angle":229},
"encoding":{
"x":{"field":"x2","type":"quantitative","scale":{"domain":[1984,1995.47],"nice":false,"zero":false},"axis":null},
"y":{"field":"y2","type":"quantitative","scale":{"domain":[25,110],"nice":false,"zero":false},"axis":null}
}
},
{
"data":{"name":"labels"},
"mark":{"type":"text","font":"Liberation Sans","fontSize":20,"align":"left","baseline":"alphabetic","lineBreak":"\n","lineHeight":23,"color":"#222"},
"encoding":{
"x":{"field":"x","type":"quantitative","scale":{"domain":[1984,1995.47],"nice":false,"zero":false},"axis":null},
"y":{"field":"y","type":"quantitative","scale":{"domain":[25,110],"nice":false,"zero":false},"axis":null},
"text":{"field":"label"}
}
}
]
}
